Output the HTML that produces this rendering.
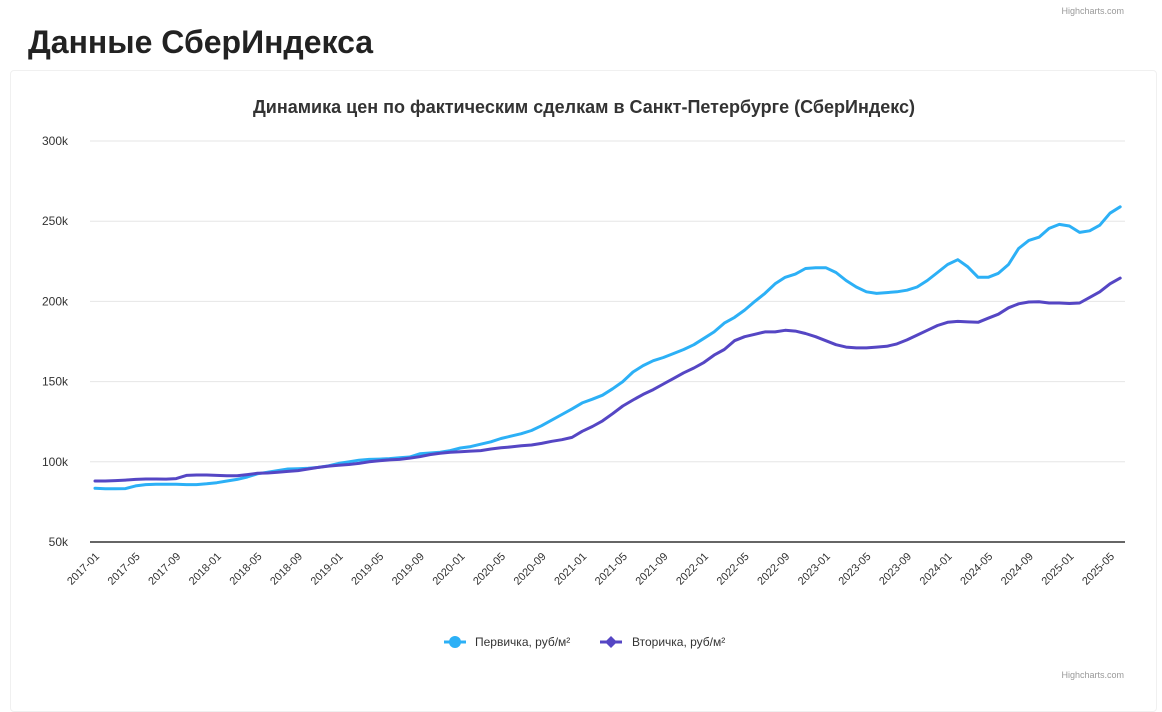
<!DOCTYPE html>
<html><head><meta charset="utf-8"><style>
body{margin:0;width:1162px;height:687px;background:#fff;font-family:"Liberation Sans",sans-serif;overflow:hidden;position:relative}
#h{position:absolute;left:28px;top:24px;font-size:32px;font-weight:bold;color:#222;margin:0;font-family:"Liberation Sans",sans-serif;letter-spacing:0px}
#card{position:absolute;left:10px;top:70px;width:1145px;height:640px;border:1px solid #f0f0f0;border-radius:4px}
svg{position:absolute;left:0;top:0}
</style></head><body>
<h1 id="h">Данные СберИндекса</h1>
<div id="card"></div>
<svg id="c" width="1162" height="687"></svg>
<script>
const months=[];for(let y=2017;y<=2025;y++)for(let m=1;m<=12;m++){if(y===2025&&m>6)break;months.push(y+'-'+String(m).padStart(2,'0'));}
const yTicks=[50,100,150,200,250,300];
const primary=[83.5,83.2,83.2,83.3,85,85.8,86,86,86,85.8,85.8,86.3,
87,88,89,90.5,92.5,93.5,94.5,95.5,95.7,96,96.5,97.5,
99,100,101,101.5,101.7,102,102.5,103,105,105.5,106,107,
108.6,109.5,111,112.5,114.5,116,117.5,119.5,122.5,126,129.5,133,
136.7,139,141.5,145.5,150,156,160,163,165,167.5,170,173,
177,181,186.5,190,194.6,200,205,211,215,217,220.5,221,
221,218,213,209,206,205,205.5,206,207,209,213,218,
223,226,221.5,215,215,217.5,223,233,238,240,245.5,248,
247,243,244,247.5,255,259];
const secondary=[88,88,88.3,88.6,89,89.3,89.3,89.2,89.5,91.5,91.8,91.8,
91.5,91.3,91.3,92,92.8,93,93.5,94,94.5,95.5,96.5,97.3,
97.8,98.3,99,100,100.7,101.2,101.5,102.3,103.2,104.5,105.3,106,
106.3,106.7,107,108,108.7,109.3,110,110.5,111.5,112.8,113.8,115.2,
119,122,125.5,130,134.8,138.5,142,145,148.5,152,155.5,158.5,
162,166.5,170,175.5,178,179.5,181,181,182,181.5,180,178,
175.5,173,171.5,171,171,171.5,172,173.5,176,179,182,185,
187,187.5,187.2,187,189.5,192,196,198.5,199.6,199.8,199,199,
198.7,199,202.5,206,211,214.5];
const NS='http://www.w3.org/2000/svg',svg=document.getElementById('c');
const X0=95,DX=10.15,Y0=542,YT=141;
const xs=i=>X0+i*DX, ys=v=>Y0-(v-50)*(Y0-YT)/250;
function el(t,a,txt){const e=document.createElementNS(NS,t);for(const k in a)e.setAttribute(k,a[k]);if(txt!=null)e.textContent=txt;svg.appendChild(e);return e;}
let e=el('text',{x:584,y:113,'text-anchor':'middle','font-size':18,'font-weight':'bold',fill:'#333'},'Динамика цен по фактическим сделкам в Санкт-Петербурге (СберИндекс)');


yTicks.forEach(v=>{
 const g=el('line',{x1:90,x2:1125,y1:ys(v),y2:ys(v),stroke:v===50?'#333':'#e6e6e6','stroke-width':v===50?1.5:1});
 
 
 const t=el('text',{x:68,y:ys(v)+4,'text-anchor':'end','font-size':12,fill:'#333'},v+'k');
 
 
});
months.forEach((m,i)=>{if(i%4)return;const x=xs(i)+5,y=557;
 const t=el('text',{x:x,y:y,'text-anchor':'end','font-size':11,fill:'#333',transform:`rotate(-45 ${x} ${y})`},m);
 
 
});
function line(d,c,n){const p=el('path',{d:d.map((v,i)=>(i?'L':'M')+xs(i).toFixed(1)+' '+ys(v).toFixed(1)).join(''),fill:'none',stroke:c,'stroke-width':3,'stroke-linejoin':'round','stroke-linecap':'round'});
 
 }
line(primary,'#2cb0f6','primary-series-line');
line(secondary,'#5546c4','secondary-series-line');
let g=el('line',{x1:444,x2:466,y1:642,y2:642,stroke:'#2cb0f6','stroke-width':3});


g=el('circle',{cx:455,cy:642,r:6,fill:'#2cb0f6'});


g=el('text',{x:475,y:646,'font-size':12,fill:'#333'},'Первичка, руб/м²');


g=el('line',{x1:600,x2:622,y1:642,y2:642,stroke:'#5546c4','stroke-width':3});


g=el('path',{d:'M611 636L617 642L611 648L605 642Z',fill:'#5546c4'});


g=el('text',{x:632,y:646,'font-size':12,fill:'#333'},'Вторичка, руб/м²');


g=el('text',{x:1124,y:14,'text-anchor':'end','font-size':9,fill:'#999'},'Highcharts.com');


g=el('text',{x:1124,y:678,'text-anchor':'end','font-size':9,fill:'#999'},'Highcharts.com');


</script>
</body></html>
